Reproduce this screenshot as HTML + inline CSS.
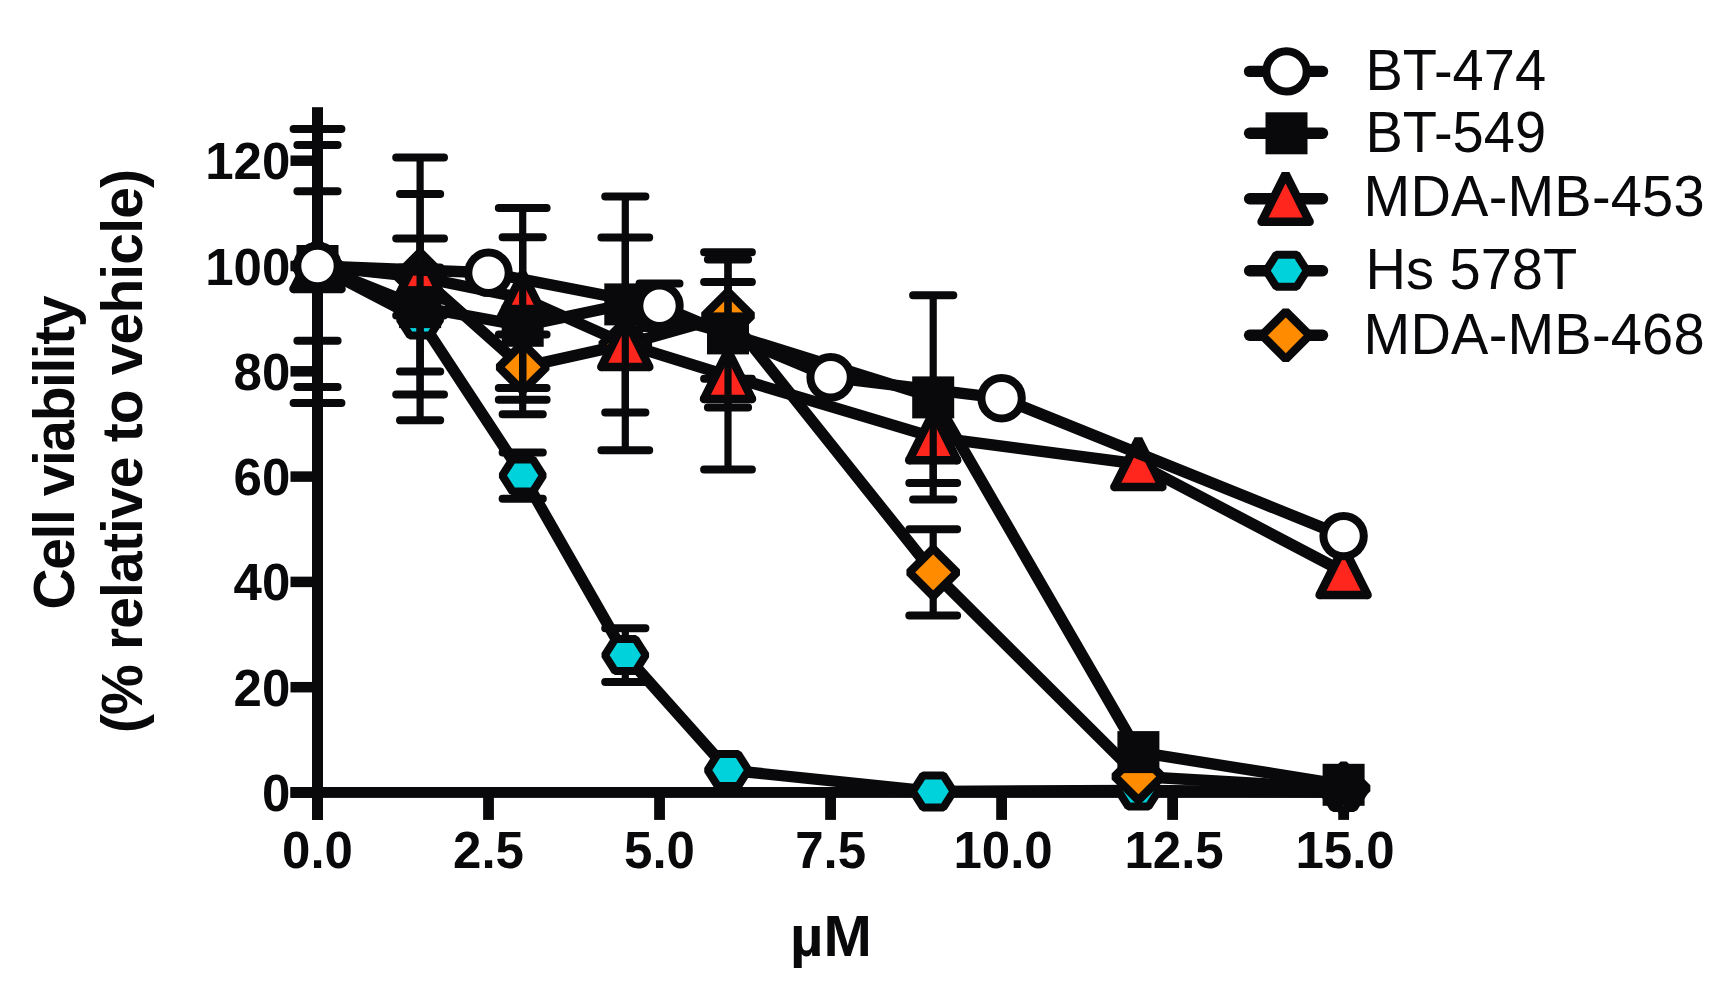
<!DOCTYPE html>
<html lang="en"><head><meta charset="utf-8"><title>Cell viability</title>
<style>html,body{margin:0;padding:0;background:#fff}svg{display:block}</style></head>
<body>
<svg width="1726" height="1002" viewBox="0 0 1726 1002">
<rect width="1726" height="1002" fill="#fff"/>
<g fill="#09090b">
<rect x="312" y="107.2" width="11" height="712.7"/>
<rect x="290.5" y="787" width="1058.6" height="10.9"/>
<rect x="290.5" y="787.25" width="27" height="10.5"/>
<rect x="290.5" y="681.95" width="27" height="10.5"/>
<rect x="290.5" y="576.65" width="27" height="10.5"/>
<rect x="290.5" y="471.35" width="27" height="10.5"/>
<rect x="290.5" y="366.05" width="27" height="10.5"/>
<rect x="290.5" y="260.75" width="27" height="10.5"/>
<rect x="290.5" y="155.45" width="27" height="10.5"/>
<rect x="312.10" y="790" width="10.8" height="29.9"/>
<rect x="483.12" y="790" width="10.8" height="29.9"/>
<rect x="654.15" y="790" width="10.8" height="29.9"/>
<rect x="825.17" y="790" width="10.8" height="29.9"/>
<rect x="996.20" y="790" width="10.8" height="29.9"/>
<rect x="1167.22" y="790" width="10.8" height="29.9"/>
<rect x="1338.25" y="790" width="10.8" height="29.9"/>
</g>
<g font-family="Liberation Sans, sans-serif" font-weight="bold" font-size="51" fill="#09090b">
<text transform="translate(290.3 811.0) scale(1 1.03)" text-anchor="end">0</text>
<text transform="translate(290.3 705.7) scale(1 1.03)" text-anchor="end">20</text>
<text transform="translate(290.3 600.4) scale(1 1.03)" text-anchor="end">40</text>
<text transform="translate(290.3 495.1) scale(1 1.03)" text-anchor="end">60</text>
<text transform="translate(290.3 389.8) scale(1 1.03)" text-anchor="end">80</text>
<text transform="translate(290.3 284.5) scale(1 1.03)" text-anchor="end">100</text>
<text transform="translate(290.3 179.2) scale(1 1.03)" text-anchor="end">120</text>
<text transform="translate(317.5 867.9) scale(1 1.03)" text-anchor="middle">0.0</text>
<text transform="translate(488.5 867.9) scale(1 1.03)" text-anchor="middle">2.5</text>
<text transform="translate(659.5 867.9) scale(1 1.03)" text-anchor="middle">5.0</text>
<text transform="translate(830.6 867.9) scale(1 1.03)" text-anchor="middle">7.5</text>
<text transform="translate(1003.1 867.9) scale(1 1.03)" text-anchor="middle">10.0</text>
<text transform="translate(1174.1 867.9) scale(1 1.03)" text-anchor="middle">12.5</text>
<text transform="translate(1345.1 867.9) scale(1 1.03)" text-anchor="middle">15.0</text>
</g>
<g font-family="Liberation Sans, sans-serif" font-weight="bold" font-size="57" fill="#09090b">
<text transform="translate(73.5 609.5) rotate(-90)" textLength="314" lengthAdjust="spacing">Cell viability</text>
<text transform="translate(142 733) rotate(-90)" textLength="564" lengthAdjust="spacing">(% relative to vehicle)</text>
<text x="790" y="956.1" font-size="58">µM</text>
</g>
<g stroke="#09090b" fill="none">
<path d="M317.5 191.2V340.8" stroke-width="7.2"/>
<path d="M297.4 191.2H337.6M297.4 340.8H337.6" stroke-width="8.0" stroke-linecap="round"/>
<path d="M420.1 267.5V371.4" stroke-width="7.2"/>
<path d="M400.0 267.5H440.2M400.0 371.4H440.2" stroke-width="8.0" stroke-linecap="round"/>
<path d="M522.7 452.4V498.7" stroke-width="7.2"/>
<path d="M502.6 452.4H542.8M502.6 498.7H542.8" stroke-width="8.0" stroke-linecap="round"/>
<path d="M625.3 628.2V681.9" stroke-width="7.2"/>
<path d="M605.2 628.2H645.4M605.2 681.9H645.4" stroke-width="8.0" stroke-linecap="round"/>
<polyline points="317.5,266.0 420.1,319.4 522.7,475.5 625.3,655.1 728.0,770.1 933.2,791.4 1138.4,790.4 1343.6,792.0" stroke-width="11.4" stroke-linejoin="round"/>
</g>
<polygon points="297.1,266.0 307.3,250.0 327.7,250.0 337.9,266.0 327.7,282.0 307.3,282.0" fill="#00d2dc" stroke="#09090b" stroke-width="8" stroke-linejoin="bevel"/>
<polygon points="399.7,319.4 409.9,303.4 430.3,303.4 440.5,319.4 430.3,335.4 409.9,335.4" fill="#00d2dc" stroke="#09090b" stroke-width="8" stroke-linejoin="bevel"/>
<polygon points="502.3,475.5 512.5,459.5 532.9,459.5 543.1,475.5 532.9,491.5 512.5,491.5" fill="#00d2dc" stroke="#09090b" stroke-width="8" stroke-linejoin="bevel"/>
<polygon points="604.9,655.1 615.1,639.1 635.5,639.1 645.7,655.1 635.5,671.1 615.1,671.1" fill="#00d2dc" stroke="#09090b" stroke-width="8" stroke-linejoin="bevel"/>
<polygon points="707.6,770.1 717.8,754.1 738.2,754.1 748.4,770.1 738.2,786.1 717.8,786.1" fill="#00d2dc" stroke="#09090b" stroke-width="8" stroke-linejoin="bevel"/>
<polygon points="912.8,791.4 923.0,775.4 943.4,775.4 953.6,791.4 943.4,807.4 923.0,807.4" fill="#00d2dc" stroke="#09090b" stroke-width="8" stroke-linejoin="bevel"/>
<polygon points="1118.0,790.4 1128.2,774.4 1148.6,774.4 1158.8,790.4 1148.6,806.4 1128.2,806.4" fill="#00d2dc" stroke="#09090b" stroke-width="8" stroke-linejoin="bevel"/>
<polygon points="1323.2,792.0 1333.4,776.0 1353.8,776.0 1364.0,792.0 1353.8,808.0 1333.4,808.0" fill="#00d2dc" stroke="#09090b" stroke-width="8" stroke-linejoin="bevel"/>
<g stroke="#09090b" fill="none">
<path d="M420.1 157.5V394.5" stroke-width="7.2"/>
<path d="M396.2 157.5H444.0M396.2 394.5H444.0" stroke-width="8.0" stroke-linecap="round"/>
<path d="M522.7 334.4V399.7" stroke-width="7.2"/>
<path d="M498.8 334.4H546.6M498.8 399.7H546.6" stroke-width="8.0" stroke-linecap="round"/>
<path d="M728.0 252.3V378.7" stroke-width="7.2"/>
<path d="M704.1 252.3H751.9M704.1 378.7H751.9" stroke-width="8.0" stroke-linecap="round"/>
<path d="M933.2 529.2V615.6" stroke-width="7.2"/>
<path d="M909.3 529.2H957.1M909.3 615.6H957.1" stroke-width="8.0" stroke-linecap="round"/>
<polyline points="317.5,266.0 420.1,276.0 522.7,367.1 625.3,344.4 728.0,315.5 933.2,572.4 1138.4,776.5 1343.6,788.3" stroke-width="11.4" stroke-linejoin="round"/>
</g>
<polygon points="317.5,242.2 341.3,266.0 317.5,289.8 293.7,266.0" fill="#ff8c00" stroke="#09090b" stroke-width="8.4" stroke-linejoin="bevel"/>
<polygon points="420.1,252.2 443.9,276.0 420.1,299.8 396.3,276.0" fill="#ff8c00" stroke="#09090b" stroke-width="8.4" stroke-linejoin="bevel"/>
<polygon points="522.7,343.3 546.5,367.1 522.7,390.9 498.9,367.1" fill="#ff8c00" stroke="#09090b" stroke-width="8.4" stroke-linejoin="bevel"/>
<polygon points="625.3,320.6 649.1,344.4 625.3,368.2 601.5,344.4" fill="#ff8c00" stroke="#09090b" stroke-width="8.4" stroke-linejoin="bevel"/>
<polygon points="728.0,291.7 751.8,315.5 728.0,339.3 704.2,315.5" fill="#ff8c00" stroke="#09090b" stroke-width="8.4" stroke-linejoin="bevel"/>
<polygon points="933.2,548.6 957.0,572.4 933.2,596.2 909.4,572.4" fill="#ff8c00" stroke="#09090b" stroke-width="8.4" stroke-linejoin="bevel"/>
<polygon points="1138.4,752.7 1162.2,776.5 1138.4,800.3 1114.6,776.5" fill="#ff8c00" stroke="#09090b" stroke-width="8.4" stroke-linejoin="bevel"/>
<polygon points="1343.6,764.5 1367.4,788.3 1343.6,812.1 1319.8,788.3" fill="#ff8c00" stroke="#09090b" stroke-width="8.4" stroke-linejoin="bevel"/>
<g stroke="#09090b" fill="none">
<path d="M317.5 129.1V402.9" stroke-width="7.2"/>
<path d="M293.6 129.1H341.4M293.6 402.9H341.4" stroke-width="8.0" stroke-linecap="round"/>
<path d="M420.1 238.6V315.5" stroke-width="7.2"/>
<path d="M396.2 238.6H444.0M396.2 315.5H444.0" stroke-width="8.0" stroke-linecap="round"/>
<path d="M522.7 208.1V388.1" stroke-width="7.2"/>
<path d="M498.8 208.1H546.6M498.8 388.1H546.6" stroke-width="8.0" stroke-linecap="round"/>
<path d="M625.3 237.6V450.3" stroke-width="7.2"/>
<path d="M601.4 237.6H649.2M601.4 450.3H649.2" stroke-width="8.0" stroke-linecap="round"/>
<path d="M728.0 282.1V469.5" stroke-width="7.2"/>
<path d="M704.1 282.1H751.9M704.1 469.5H751.9" stroke-width="8.0" stroke-linecap="round"/>
<path d="M933.2 391.3V482.9" stroke-width="7.2"/>
<path d="M909.3 391.3H957.1M909.3 482.9H957.1" stroke-width="8.0" stroke-linecap="round"/>
<polyline points="317.5,266.0 420.1,277.1 522.7,298.1 625.3,343.9 728.0,375.8 933.2,437.1 1138.4,464.0 1343.6,571.9" stroke-width="11.4" stroke-linejoin="round"/>
</g>
<circle cx="293.5" cy="289.1" r="4.25" fill="#09090b"/><circle cx="341.5" cy="289.1" r="4.25" fill="#09090b"/><polygon points="317.5,241.2 341.5,289.1 293.5,289.1" fill="#ff261e" stroke="#09090b" stroke-width="8.5" stroke-linejoin="bevel"/>
<circle cx="396.1" cy="300.2" r="4.25" fill="#09090b"/><circle cx="444.1" cy="300.2" r="4.25" fill="#09090b"/><polygon points="420.1,252.3 444.1,300.2 396.1,300.2" fill="#ff261e" stroke="#09090b" stroke-width="8.5" stroke-linejoin="bevel"/>
<circle cx="498.7" cy="321.2" r="4.25" fill="#09090b"/><circle cx="546.7" cy="321.2" r="4.25" fill="#09090b"/><polygon points="522.7,273.3 546.7,321.2 498.7,321.2" fill="#ff261e" stroke="#09090b" stroke-width="8.5" stroke-linejoin="bevel"/>
<circle cx="601.3" cy="367.0" r="4.25" fill="#09090b"/><circle cx="649.3" cy="367.0" r="4.25" fill="#09090b"/><polygon points="625.3,319.1 649.3,367.0 601.3,367.0" fill="#ff261e" stroke="#09090b" stroke-width="8.5" stroke-linejoin="bevel"/>
<circle cx="704.0" cy="398.9" r="4.25" fill="#09090b"/><circle cx="752.0" cy="398.9" r="4.25" fill="#09090b"/><polygon points="728.0,351.0 752.0,398.9 704.0,398.9" fill="#ff261e" stroke="#09090b" stroke-width="8.5" stroke-linejoin="bevel"/>
<circle cx="909.2" cy="460.2" r="4.25" fill="#09090b"/><circle cx="957.2" cy="460.2" r="4.25" fill="#09090b"/><polygon points="933.2,412.3 957.2,460.2 909.2,460.2" fill="#ff261e" stroke="#09090b" stroke-width="8.5" stroke-linejoin="bevel"/>
<circle cx="1114.4" cy="487.1" r="4.25" fill="#09090b"/><circle cx="1162.4" cy="487.1" r="4.25" fill="#09090b"/><polygon points="1138.4,439.2 1162.4,487.1 1114.4,487.1" fill="#ff261e" stroke="#09090b" stroke-width="8.5" stroke-linejoin="bevel"/>
<circle cx="1319.6" cy="595.0" r="4.25" fill="#09090b"/><circle cx="1367.6" cy="595.0" r="4.25" fill="#09090b"/><polygon points="1343.6,547.1 1367.6,595.0 1319.6,595.0" fill="#ff261e" stroke="#09090b" stroke-width="8.5" stroke-linejoin="bevel"/>
<g stroke="#09090b" fill="none">
<path d="M317.5 144.9V387.1" stroke-width="7.2"/>
<path d="M297.4 144.9H337.6M297.4 387.1H337.6" stroke-width="8.0" stroke-linecap="round"/>
<path d="M420.1 193.9V420.3" stroke-width="7.2"/>
<path d="M400.0 193.9H440.2M400.0 420.3H440.2" stroke-width="8.0" stroke-linecap="round"/>
<path d="M522.7 237.3V414.2" stroke-width="7.2"/>
<path d="M502.6 237.3H542.8M502.6 414.2H542.8" stroke-width="8.0" stroke-linecap="round"/>
<path d="M625.3 196.5V412.4" stroke-width="7.2"/>
<path d="M605.2 196.5H645.4M605.2 412.4H645.4" stroke-width="8.0" stroke-linecap="round"/>
<path d="M728.0 259.4V407.4" stroke-width="7.2"/>
<path d="M707.9 259.4H748.1M707.9 407.4H748.1" stroke-width="8.0" stroke-linecap="round"/>
<path d="M933.2 295.2V499.5" stroke-width="7.2"/>
<path d="M913.1 295.2H953.3M913.1 499.5H953.3" stroke-width="8.0" stroke-linecap="round"/>
<polyline points="317.5,266.0 420.1,307.1 522.7,325.8 625.3,304.4 728.0,333.4 933.2,397.4 1138.4,752.1 1343.6,784.8" stroke-width="11.4" stroke-linejoin="round"/>
</g>
<rect x="296.5" y="245.0" width="42" height="42" fill="#09090b"/>
<rect x="399.1" y="286.1" width="42" height="42" fill="#09090b"/>
<rect x="501.7" y="304.8" width="42" height="42" fill="#09090b"/>
<rect x="604.3" y="283.4" width="42" height="42" fill="#09090b"/>
<rect x="707.0" y="312.4" width="42" height="42" fill="#09090b"/>
<rect x="912.2" y="376.4" width="42" height="42" fill="#09090b"/>
<rect x="1117.4" y="731.1" width="42" height="42" fill="#09090b"/>
<rect x="1322.6" y="763.8" width="42" height="42" fill="#09090b"/>
<g stroke="#09090b" fill="none">
<path d="M659.5 283.4V328.1" stroke-width="7.2"/>
<path d="M639.5 283.4H679.5M639.5 328.1H679.5" stroke-width="8.0" stroke-linecap="round"/>
<polyline points="317.5,266.0 488.5,272.8 659.5,305.8 830.6,377.3 1001.6,398.2 1343.6,536.1" stroke-width="11.4" stroke-linejoin="round"/>
</g>
<circle cx="317.5" cy="266.0" r="20.2" fill="#fff" stroke="#09090b" stroke-width="8"/>
<circle cx="488.5" cy="272.8" r="20.2" fill="#fff" stroke="#09090b" stroke-width="8"/>
<circle cx="659.5" cy="305.8" r="20.2" fill="#fff" stroke="#09090b" stroke-width="8"/>
<circle cx="830.6" cy="377.3" r="20.2" fill="#fff" stroke="#09090b" stroke-width="8"/>
<circle cx="1001.6" cy="398.2" r="20.2" fill="#fff" stroke="#09090b" stroke-width="8"/>
<circle cx="1343.6" cy="536.1" r="20.2" fill="#fff" stroke="#09090b" stroke-width="8"/>
<g font-family="Liberation Sans, sans-serif" font-size="56" fill="#09090b">
<path d="M1249.6 71.4H1322.5" stroke="#09090b" stroke-width="11.4" stroke-linecap="round"/>
<circle cx="1286.5" cy="71.4" r="20.2" fill="#fff" stroke="#09090b" stroke-width="8"/>
<text transform="translate(1365.5 89.7) scale(1 1.04)">BT-474</text>
<path d="M1249.6 133.3H1322.5" stroke="#09090b" stroke-width="11.4" stroke-linecap="round"/>
<rect x="1265.5" y="112.3" width="42" height="42" fill="#09090b"/>
<text transform="translate(1365.5 151.8) scale(1 1.04)">BT-549</text>
<path d="M1249.6 198.7H1322.5" stroke="#09090b" stroke-width="11.4" stroke-linecap="round"/>
<circle cx="1261.6" cy="221.8" r="4.25" fill="#09090b"/><circle cx="1309.6" cy="221.8" r="4.25" fill="#09090b"/><polygon points="1285.6,173.9 1309.6,221.8 1261.6,221.8" fill="#ff261e" stroke="#09090b" stroke-width="8.5" stroke-linejoin="bevel"/>
<text transform="translate(1363.6 216.2) scale(1 1.04)" textLength="341" lengthAdjust="spacing">MDA-MB-453</text>
<path d="M1249.6 270.7H1322.5" stroke="#09090b" stroke-width="11.4" stroke-linecap="round"/>
<polygon points="1266.1,270.7 1276.3,254.7 1296.7,254.7 1306.9,270.7 1296.7,286.7 1276.3,286.7" fill="#00d2dc" stroke="#09090b" stroke-width="8" stroke-linejoin="bevel"/>
<text transform="translate(1365.5 288.9) scale(1 1.04)">Hs 578T</text>
<path d="M1249.6 335.3H1322.5" stroke="#09090b" stroke-width="11.4" stroke-linecap="round"/>
<polygon points="1285.8,311.5 1309.6,335.3 1285.8,359.1 1262.0,335.3" fill="#ff8c00" stroke="#09090b" stroke-width="8.4" stroke-linejoin="bevel"/>
<text transform="translate(1363.6 353.8) scale(1 1.04)" textLength="341" lengthAdjust="spacing">MDA-MB-468</text>
</g>
</svg>
</body></html>
